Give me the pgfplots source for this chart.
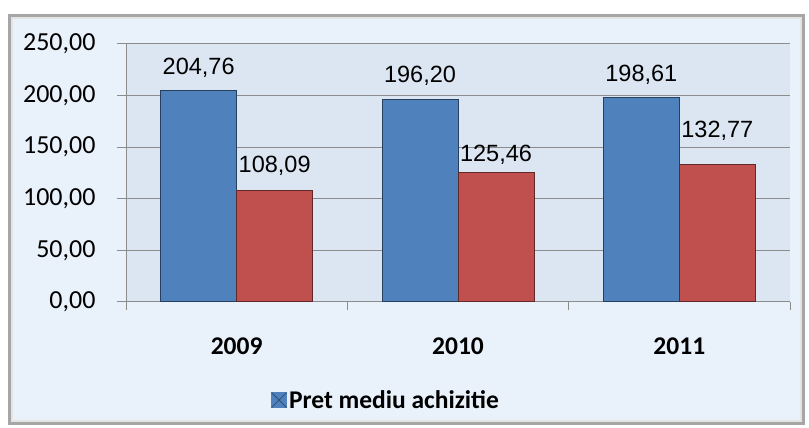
\documentclass[border=0pt]{standalone}
\usepackage{pgfplots}
\pgfplotsset{compat=1.18}
\usepackage{fontspec}
\setmainfont{Carlito}
\newfontfamily\arialf{Liberation Sans}
\definecolor{outerbg}{RGB}{233,241,251}
\definecolor{plotbg}{RGB}{220,230,242}
\definecolor{gridc}{RGB}{140,140,140}
\definecolor{xblue}{RGB}{79,129,189}
\definecolor{xred}{RGB}{192,80,77}
\definecolor{frame}{RGB}{166,166,166}
\pgfdeclarehorizontalshading{bevelblue}{100bp}{color(0bp)=(xblue!80!black); color(6bp)=(xblue); color(86bp)=(xblue); color(92bp)=(xblue!75!black); color(100bp)=(xblue!40!black)}
\pgfdeclarehorizontalshading{bevelred}{100bp}{color(0bp)=(xred!80!black); color(6bp)=(xred); color(86bp)=(xred); color(92bp)=(xred!75!black); color(100bp)=(xred!40!black)}
\pgfplotstableread{
x y off
0 204.76 16.2
1 196.20 17.2
2 198.61 15.5
}\blue
\pgfplotstableread{
x y off
0 108.09 17.5
1 125.46 11.5
2 132.77 27.5
}\red
\begin{document}
\begin{tikzpicture}
\fill[white] (0pt,0pt) rectangle (809pt,428pt);
\fill[outerbg] (8pt,3pt) rectangle (805pt,414pt);
\draw[frame, line width=3pt] (9.5pt,4.5pt) rectangle (803.5pt,412.5pt);
\draw[white!70!frame, line width=2pt] (12pt,7pt) rectangle (801pt,410pt);
\begin{axis}[
  at={(126pt,126pt)}, anchor=south west,
  scale only axis, width=664pt, height=258pt,
  xmin=-0.5, xmax=2.5, ymin=0, ymax=250,
  axis background/.style={fill=plotbg},
  axis line style={gridc, line width=1pt},
  axis x line*=bottom, axis y line*=left,
  ybar, bar width=76pt,
  ytick={0,50,100,150,200,250},
  ymajorgrids, grid style={gridc, line width=1pt},
  tick align=outside,
  major tick length=9pt,
  minor tick length=8pt,
  y tick style={gridc, line width=1pt},
  xtick={0,1,2},
  xticklabels={2009,2010,2011},
  major x tick style={draw=none},
  minor xtick={-0.5,0.5,1.5,2.5},
  minor x tick style={gridc, line width=1pt},
  /pgf/number format/assume math mode=true,
  yticklabel={\pgfmathprintnumber[fixed, fixed zerofill, precision=2, use comma]{\tick}},
  yticklabel style={font=\fontsize{26}{30}\selectfont, anchor=east, xshift=-18pt},
  xticklabel style={font=\fontsize{25.5}{30}\selectfont\bfseries, anchor=base, yshift=-43.5pt},
  nodes near coords={\pgfmathprintnumber[fixed, fixed zerofill, precision=2, use comma]{\pgfplotspointmeta}},
  visualization depends on={\thisrow{off} \as \myoff},
  every node near coord/.append style={font=\arialf\fontsize{23.5}{28}\selectfont, anchor=base, inner sep=0pt, yshift=\myoff pt, black},
  legend style={at={(0.3916,-0.38)}, anchor=center, draw=none, fill=none,
    font=\fontsize{25.5}{30}\selectfont\bfseries, inner sep=0pt},
  legend image code/.code={\fill[xblue] (0pt,-7.5pt) rectangle (15pt,7.5pt); \draw[xblue!60!black, line width=0.8pt] (0pt,-7.5pt) -- (15pt,7.5pt) (0pt,7.5pt) -- (15pt,-7.5pt);},
  legend cell align=left,
  clip=false,
]
\addplot[bar shift=-38pt, shading=bevelblue, draw=xblue!50!black, line width=1pt] table[x=x,y=y] {\blue};
\addlegendentry{Pret mediu achizitie}
\addplot[bar shift=38pt, shading=bevelred, draw=xred!50!black, line width=1pt, forget plot] table[x=x,y=y] {\red};
\end{axis}
\end{tikzpicture}
\end{document}
